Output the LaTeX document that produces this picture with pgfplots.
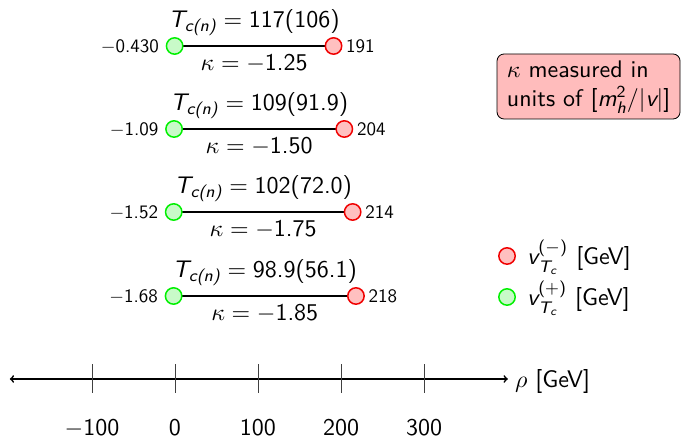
\documentclass[border=0pt]{standalone}
\usepackage{amsmath}
\usepackage{graphicx}
\usepackage{pgfplots}
\pgfplotsset{compat=1.18}
\renewcommand{\familydefault}{\sfdefault}

\definecolor{vminus}{RGB}{240,0,0}
\definecolor{vminusfill}{RGB}{255,192,192}
\definecolor{vplus}{RGB}{0,240,0}
\definecolor{vplusfill}{RGB}{200,250,200}
\definecolor{boxfill}{RGB}{255,188,188}

% sans italic letters inside math
\newcommand{\sv}[1]{\text{\itshape #1}}
\newcommand{\st}[1]{\text{#1}}

% text set at 10bp and enlarged, so that the 10bp design size is kept
\newcommand{\BigT}[1]{\scalebox{2.4}{\fontsize{10bp}{12bp}\selectfont #1}}
\newcommand{\SmallT}[1]{\scalebox{1.9}{\fontsize{10bp}{12bp}\selectfont #1}}

\pgfplotsset{
  vplus mark/.style={only marks, mark=*, mark size=8.2bp, line width=1.5bp,
    mark options={draw=vplus, fill=vplusfill}},
  vminus mark/.style={only marks, mark=*, mark size=8.2bp, line width=1.5bp,
    mark options={draw=vminus, fill=vminusfill}},
}

% one row: y, v(+), |v(+)|, v(-), T_c, T_n, kappa
\newcommand{\Row}[7]{%
  \addplot[forget plot, black, line width=1.7bp] coordinates {(#2,#1) (#4,#1)};
  \addplot[forget plot, vplus mark] coordinates {(#2,#1)};
  \addplot[forget plot, vminus mark] coordinates {(#4,#1)};
  \node[anchor=base, inner sep=0] at (axis cs:{(#2+#4)/2},#1)
    [yshift=18.5bp] {\BigT{$\sv{T}_{\sv{c(n)}} = \st{#5(#6)}$}};
  \node[anchor=base, inner sep=0] at (axis cs:{(#2+#4)/2},#1)
    [yshift=-25bp] {\BigT{$\kappa = -\st{#7}$}};
  \node[anchor=base east, inner sep=0] at (axis cs:#2,#1)
    [xshift=-15.5bp, yshift=-6.5bp] {\SmallT{$-$#3}};
  \node[anchor=base west, inner sep=0] at (axis cs:#4,#1)
    [xshift=12.5bp, yshift=-6.5bp] {\SmallT{#4}};
}

\begin{document}
\begin{tikzpicture}
\begin{axis}[
  scale only axis,
  width=682bp, height=440bp,
  xmin=-210.8, xmax=610.8,
  ymin=-61, ymax=379,
  hide axis,
  clip=false,
]
\coordinate (BBsw) at (rel axis cs:0,0);
\coordinate (BBne) at (rel axis cs:1,1);

% the rho axis
\addplot[forget plot, black, line width=1.7bp, <->] coordinates {(-199,0) (401,0)};
\addplot[forget plot, only marks, mark=|, mark size=14.5bp, mark options={line width=0.8bp, draw=black!75}]
  coordinates {(-100,0) (0,0) (100,0) (200,0) (300,0)};
\node[anchor=base, inner sep=0] at (axis cs:-100,0) [yshift=-57bp] {\BigT{$-$100}};
\node[anchor=base, inner sep=0] at (axis cs:0,0) [yshift=-57bp] {\BigT{0}};
\node[anchor=base, inner sep=0] at (axis cs:100,0) [yshift=-57bp] {\BigT{100}};
\node[anchor=base, inner sep=0] at (axis cs:200,0) [yshift=-57bp] {\BigT{200}};
\node[anchor=base, inner sep=0] at (axis cs:300,0) [yshift=-57bp] {\BigT{300}};
\node[anchor=base west, inner sep=0] at (axis cs:401,0)
  [xshift=7bp, yshift=-9bp] {\BigT{$\rho$ [GeV]}};

\Row{333}{-0.430}{0.430}{191}{117}{106}{1.25}
\Row{250}{-1.09}{1.09}{204}{109}{91.9}{1.50}
\Row{167}{-1.52}{1.52}{214}{102}{72.0}{1.75}
\Row{83}{-1.68}{1.68}{218}{98.9}{56.1}{1.85}

% key for the two kinds of marks
\addplot[forget plot, vminus mark] coordinates {(400,123)};
\node[anchor=base west, inner sep=0] at (axis cs:400,123) [xshift=20bp, yshift=-9bp]
  {\BigT{$\sv{v}_{\sv{T}_{\sv{c}}}^{\st{(}-\st{)}}$ [GeV]}};
\addplot[forget plot, vplus mark] coordinates {(400,82)};
\node[anchor=base west, inner sep=0] at (axis cs:400,82) [xshift=20bp, yshift=-9bp]
  {\BigT{$\sv{v}_{\sv{T}_{\sv{c}}}^{\st{(+)}}$ [GeV]}};

\node[draw=black, line width=0.8bp, fill=boxfill, rounded corners=7bp,
      inner xsep=8bp, inner ysep=0pt,
      minimum width=183bp, minimum height=65bp]
  at (axis cs:498.2,292.5)
  {\BigT{\begin{tabular}{@{}l@{}}$\kappa$ measured in\\units of [$\sv{m}_{\sv{h}}^{\st{2}}/|\sv{v}|$]\end{tabular}}};
\end{axis}
\pgfresetboundingbox
\useasboundingbox (BBsw) rectangle (BBne);
\end{tikzpicture}
\end{document}
